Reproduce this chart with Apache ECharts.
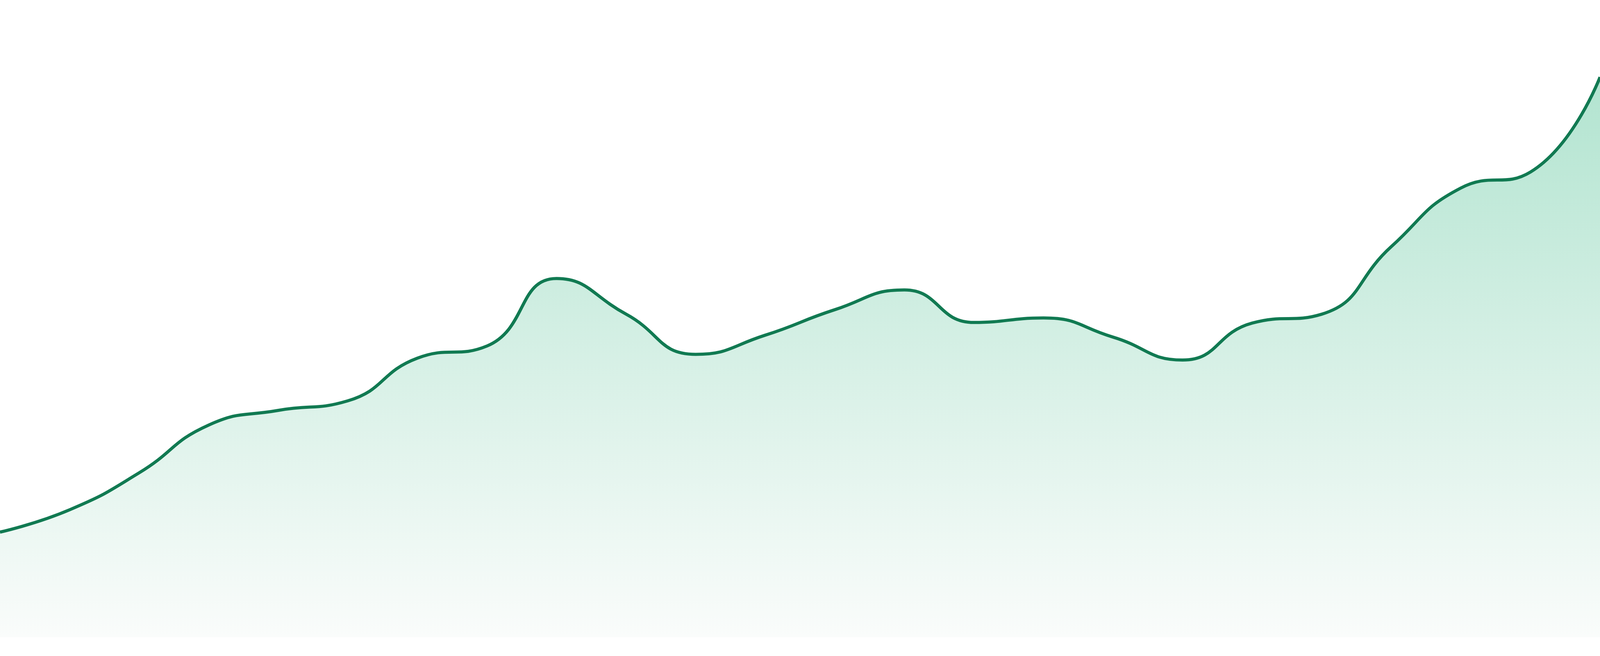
<!DOCTYPE html>
<html>
<head>
<meta charset="utf-8">
<script src="https://cdn.jsdelivr.net/npm/echarts@6/dist/echarts.min.js"></script>
<style>
html,body{margin:0;padding:0;background:#ffffff;overflow:hidden;width:100%;height:100%;}
#chart{width:100vw;height:100vh;}
</style>
</head>
<body>
<div id="chart"></div>
<script>
const categories = ['1','2','3','4','5','6','7','8','9','10','11','12','13','14','15','16','17','18','19','20','21','22','23','24'];
const values = [16.5, 20.0, 25.8, 33.3, 35.6, 37.1, 43.8, 45.7, 56.3, 50.7, 44.4, 47.4, 51.4, 54.5, 49.4, 50.1, 47.1, 43.5, 49.3, 50.7, 61.3, 70.5, 73.0, 87.9];

const chart = echarts.init(document.getElementById('chart'), null, {renderer: 'canvas'});
chart.setOption({
  animation: false,
  backgroundColor: '#ffffff',
  grid: {left: 0, right: 0, top: 0, bottom: '2.857%', containLabel: false},
  xAxis: {
    type: 'category',
    data: categories,
    boundaryGap: false,
    show: false
  },
  yAxis: {
    type: 'value',
    min: 0,
    max: 100,
    show: false
  },
  series: [{
    type: 'line',
    data: values,
    smooth: true,
    symbol: 'none',
    lineStyle: {color: '#117a52', width: 8},
    areaStyle: {
      opacity: 1,
      color: {
        type: 'linear', x: 0, y: 0, x2: 0, y2: 1,
        colorStops: [
          {offset: 0, color: 'rgb(178,228,208)'},
          {offset: 1, color: 'rgb(250,252,251)'}
        ]
      }
    }
  }]
});
window.addEventListener('resize', function(){ chart.resize(); });
</script>
</body>
</html>
